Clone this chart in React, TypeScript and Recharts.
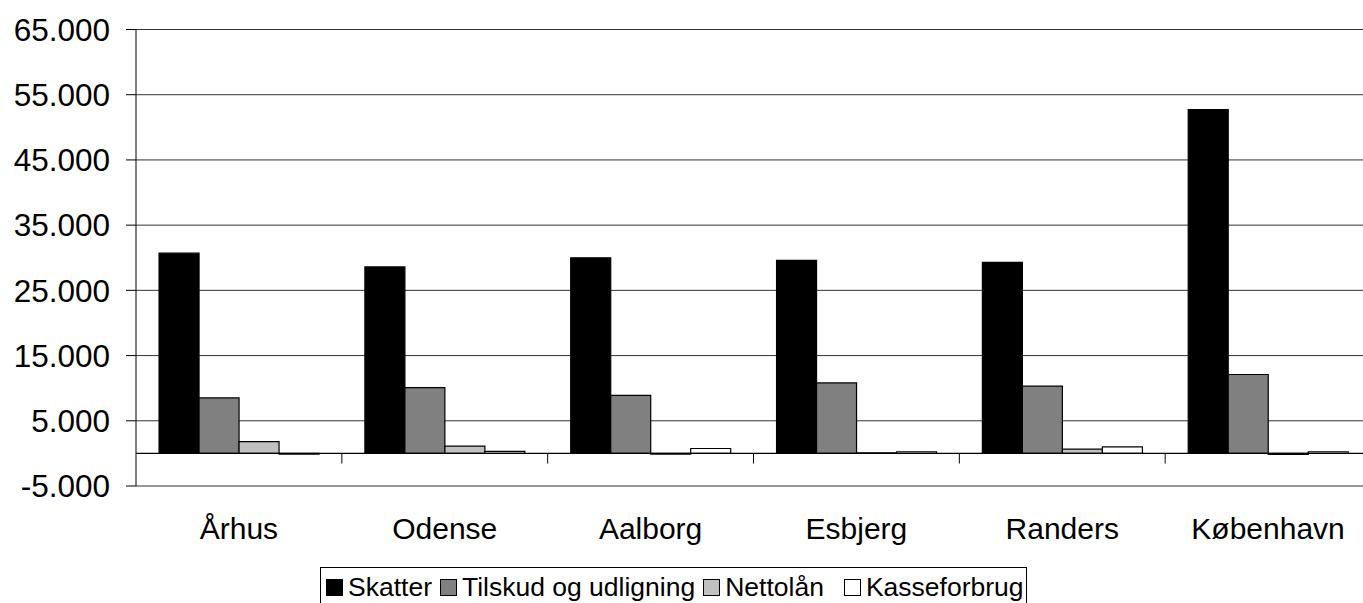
import {
  BarChart,
  Bar,
  XAxis,
  YAxis,
  CartesianGrid,
  Legend,
  ReferenceLine,
} from 'recharts';

const cities = ['Århus', 'Odense', 'Aalborg', 'Esbjerg', 'Randers', 'København'];
const skatter = [30700, 28600, 30000, 29600, 29300, 52700];
const tilskud = [8500, 10100, 8900, 10800, 10300, 12100];
const nettolaan = [1800, 1100, -100, 100, 650, -150];
const kasseforbrug = [-100, 300, 750, 250, 1000, 250];
const yTicks = [-5000, 5000, 15000, 25000, 35000, 45000, 55000, 65000];

const series = [
  { key: 'Skatter', fill: '#000000' },
  { key: 'Tilskud og udligning', fill: '#808080' },
  { key: 'Nettolån', fill: '#c0c0c0' },
  { key: 'Kasseforbrug', fill: '#ffffff' },
];

const data = cities.map((city, i) => ({
  city,
  Skatter: skatter[i],
  'Tilskud og udligning': tilskud[i],
  Nettolån: nettolaan[i],
  Kasseforbrug: kasseforbrug[i],
}));

const fmt = (v: number) => {
  const s = Math.abs(v).toString().replace(/\B(?=(\d{3})+(?!\d))/g, '.');
  return v < 0 ? `-${s}` : s;
};

function LegendBox() {
  return (
    <div
      style={{
        position: 'absolute',
        left: 0,
        top: 0,
        width: 707,
        height: 40,
        boxSizing: 'border-box',
        border: '1px solid #000',
        background: '#fff',
        display: 'flex',
        alignItems: 'center',
        paddingLeft: 5,
        fontSize: 26.5,
        color: '#000',
        whiteSpace: 'nowrap',
      }}
    >
      {series.map((s, i) => (
        <span
          key={s.key}
          style={{ display: 'inline-flex', alignItems: 'center', marginRight: i === 2 ? 20 : 8 }}
        >
          <span
            style={{
              display: 'inline-block',
              width: 15,
              height: 15,
              border: '1.5px solid #000',
              background: s.fill,
              marginRight: 5,
            }}
          />
          {s.key}
        </span>
      ))}
    </div>
  );
}

export default function App() {
  return (
    <div
      style={{
        position: 'absolute',
        left: 0,
        top: 0,
        width: 1363,
        height: 603,
        overflow: 'hidden',
        background: '#fff',
        fontFamily: '"Liberation Sans", Arial, sans-serif',
      }}
    >
      <BarChart
        width={1371}
        height={603}
        data={data}
        margin={{ top: 29.5, right: 0, left: 0, bottom: 0 }}
        barCategoryGap="11.2%"
        barGap={0}
      >
        <CartesianGrid vertical={false} stroke="#333" horizontalValues={yTicks} />
        <XAxis
          dataKey="city"
          tickLine={false}
          axisLine={false}
          tickSize={0}
          tickMargin={32}
          height={117}
          interval={0}
          tick={{ fontSize: 30, fill: '#000' }}
        />
        <YAxis
          domain={[-5000, 65000]}
          ticks={yTicks}
          width={136}
          tickSize={10}
          tickMargin={16}
          tickFormatter={fmt}
          stroke="#000"
          tick={{ fontSize: 31.5, fill: '#000' }}
          allowDataOverflow
        />
        <ReferenceLine y={0} stroke="#000" strokeWidth={1.2} />
        {/* tick marks between categories, hanging below the zero line */}
        {cities.slice(1).map((c) => (
          <ReferenceLine
            key={c}
            position="start"
            segment={[
              { x: c, y: 0 },
              { x: c, y: -1550 },
            ]}
            stroke="#000"
          />
        ))}
        {series.map((s) => (
          <Bar
            key={s.key}
            dataKey={s.key}
            fill={s.fill}
            stroke="#000"
            strokeWidth={1.2}
            isAnimationActive={false}
          />
        ))}
        <Legend
          content={<LegendBox />}
          wrapperStyle={{ left: 320, top: 567, bottom: 'auto', width: 0, height: 0 }}
        />
      </BarChart>
    </div>
  );
}
